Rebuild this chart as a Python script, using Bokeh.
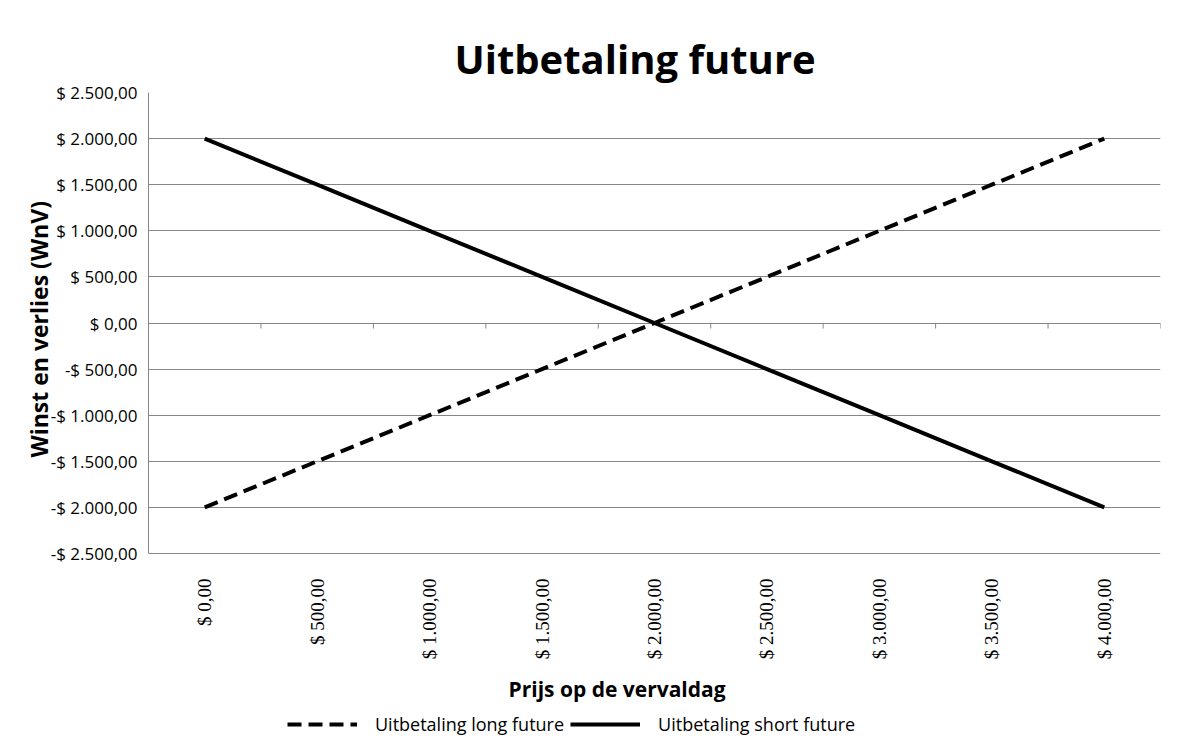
import math
from bokeh.plotting import figure
from bokeh.models import (FixedTicker, Legend, LegendItem, Range1d, Title,
                          LabelSet, Label, ColumnDataSource)
from bokeh.embed import file_html
from bokeh.resources import INLINE

# ---- data ----
prices = [0, 500, 1000, 1500, 2000, 2500, 3000, 3500, 4000]
long_payoff = [-2000, -1500, -1000, -500, 0, 500, 1000, 1500, 2000]
short_payoff = [2000, 1500, 1000, 500, 0, -500, -1000, -1500, -2000]
x_tick_labels = ["$ 0,00", "$ 500,00", "$ 1.000,00", "$ 1.500,00", "$ 2.000,00",
                 "$ 2.500,00", "$ 3.000,00", "$ 3.500,00", "$ 4.000,00"]
y_tick_values = [-2500, -2000, -1500, -1000, -500, 0, 500, 1000, 1500, 2000, 2500]
y_tick_labels = ["-$ 2.500,00", "-$ 2.000,00", "-$ 1.500,00", "-$ 1.000,00", "-$ 500,00",
                 "$ 0,00", "$ 500,00", "$ 1.000,00", "$ 1.500,00", "$ 2.000,00", "$ 2.500,00"]
title_text = "Uitbetaling future"
x_label = "Prijs op de vervaldag"
y_label = "Winst en verlies (WnV)"
series_names = ["Uitbetaling long future", "Uitbetaling short future"]

FONT = "Open Sans"
GRID = "#868686"
half = (prices[1] - prices[0]) / 2

# layout: plotting area is 461 px tall; the frame extends 183 px further down
# to hold the category labels, axis title and legend
PLOT_H, EXTRA_H = 461, 183
y_lo, y_hi = y_tick_values[0], y_tick_values[-1]
y_start = y_lo - EXTRA_H * (y_hi - y_lo) / PLOT_H

p = figure(frame_width=1012, frame_height=PLOT_H + EXTRA_H, output_backend="svg",
           toolbar_location=None,
           x_range=Range1d(prices[0] - half, prices[-1] + half),
           y_range=Range1d(y_start, y_hi),
           min_border_left=148, min_border_right=24, min_border_top=92, min_border_bottom=0)
p.outline_line_color = None
p.background_fill_color = "white"
p.border_fill_color = "white"

t = Title(text=title_text, text_font=FONT, text_font_size="40px", text_font_style="bold",
          text_color="black", align="left", offset=306, standoff=14)
p.add_layout(t, "above")

# y axis
ya = p.yaxis[0]
ya.ticker = FixedTicker(ticks=y_tick_values)
ya.major_label_overrides = {v: l for v, l in zip(y_tick_values, y_tick_labels)}
ya.bounds = (y_lo, y_hi)
ya.major_tick_line_color = None
ya.minor_tick_line_color = None
ya.axis_line_color = GRID
ya.major_label_text_font = FONT
ya.major_label_text_font_size = "17px"
ya.major_label_text_color = "black"
ya.major_label_standoff = 5

yt = Title(text=y_label, text_font=FONT, text_font_size="23px", text_font_style="bold",
           text_color="black", align="left", offset=96 + EXTRA_H, standoff=-14)
p.add_layout(yt, "left")

# x axis: category labels read bottom-to-top, top-aligned under the plot
p.xaxis.visible = False
xsrc = ColumnDataSource(dict(x=prices, y=[y_lo] * len(prices), text=x_tick_labels))
p.add_layout(LabelSet(x="x", y="y", text="text", source=xsrc, angle=math.pi / 2,
                      text_align="right", text_baseline="middle", y_offset=-25,
                      text_font=FONT, text_font_size="19px", text_color="black"))

p.add_layout(Label(x=prices[0] - half, y=y_lo, x_offset=360, y_offset=-135, text=x_label,
                   text_align="left", text_baseline="middle", text_font=FONT,
                   text_font_size="21px", text_font_style="bold", text_color="black"))

p.xgrid.grid_line_color = None
p.ygrid.ticker = FixedTicker(ticks=y_tick_values)
p.ygrid.grid_line_color = GRID
p.ygrid.grid_line_width = 1

# category boundary tick marks on the zero line
bounds = [x + half for x in prices]
p.segment(x0=bounds, y0=[0] * len(bounds), x1=bounds, y1=[-60] * len(bounds),
          line_color=GRID, line_width=1)

r_long = p.line(prices, long_payoff, line_color="black", line_width=4, line_dash="14 7")
r_short = p.line(prices, short_payoff, line_color="black", line_width=4)

legend = Legend(items=[LegendItem(label=series_names[0], renderers=[r_long]),
                       LegendItem(label=series_names[1], renderers=[r_short])],
                orientation="horizontal", location=(139, 0))
legend.label_text_font = FONT
legend.label_text_font_size = "18px"
legend.label_text_color = "black"
legend.glyph_width = 70
legend.label_standoff = 18
legend.spacing = 6
legend.border_line_color = None
legend.background_fill_alpha = 0
legend.padding = 0
legend.margin = 0
p.add_layout(legend, "center")

open("out.html", "w").write(file_html(p, INLINE))
